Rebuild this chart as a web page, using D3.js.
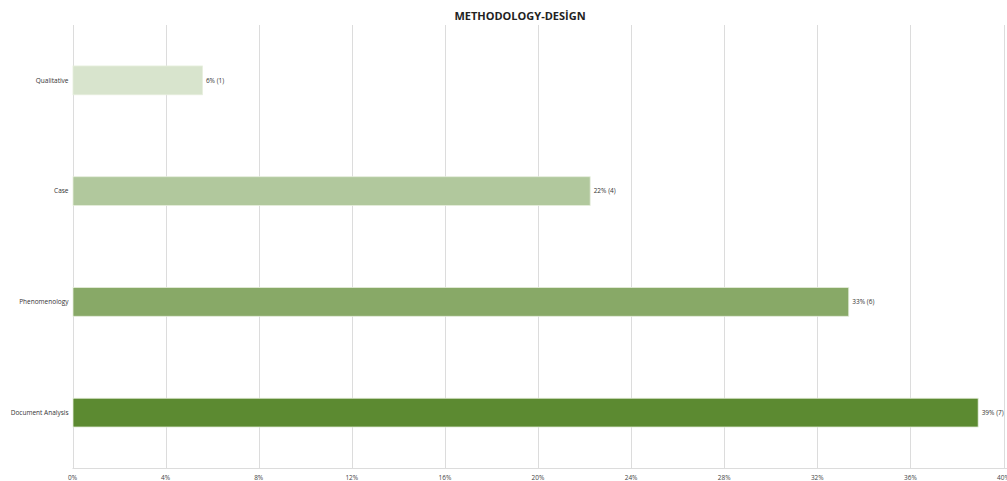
<!DOCTYPE html>
<html><head><meta charset="utf-8">
<script src="https://cdn.jsdelivr.net/npm/d3@7"></script>
<style>body{margin:0;background:#fff;}svg{display:block;font-family:"Open Sans","Noto Sans",sans-serif;}</style>
</head><body>
<script>
const categories = ["Qualitative", "Case", "Phenomenology", "Document Analysis"];
const counts = [1, 4, 6, 7];
const percents = [5.56, 22.22, 33.33, 38.89];
const labels = ["6% (1)", "22% (4)", "33% (6)", "39% (7)"];
const colors = ["#d8e4cd", "#b1c89d", "#88a967", "#5c8a31"];
const xTicks = [0, 4, 8, 12, 16, 20, 24, 28, 32, 36, 40];
const title = "METHODOLOGY-DESİGN";

const W = 1007, H = 481;
const m = {left: 72.5, right: 3.5, top: 25, bottom: 12};
const svg = d3.select("body").append("svg").attr("width", W).attr("height", H);
const x = d3.scaleLinear().domain([0, 40]).range([m.left, W - m.right]);
const y = d3.scaleBand().domain(categories).range([m.top, H - m.bottom - 1]).paddingInner(0.74).paddingOuter(0.37);

svg.append("text").attr("x", 520).attr("y", 20).attr("text-anchor", "middle")
  .attr("font-size", 11).attr("font-weight", 700).attr("fill", "#222").text(title);

svg.append("g").selectAll("line").data(xTicks).join("line")
  .attr("x1", d => Math.round(x(d)) + 0.5).attr("x2", d => Math.round(x(d)) + 0.5)
  .attr("y1", m.top).attr("y2", H - m.bottom - 1)
  .attr("stroke", "#dcdcdc").attr("stroke-width", 1);

svg.append("line").attr("x1", m.left).attr("x2", W).attr("y1", H - m.bottom - 0.5).attr("y2", H - m.bottom - 0.5)
  .attr("stroke", "#dcdcdc");

svg.append("g").selectAll("text").data(xTicks).join("text")
  .attr("x", d => x(d)).attr("y", H - 1.5).attr("text-anchor", "middle")
  .attr("font-size", 6.5).attr("fill", "#444").text(d => d + "%");

const rows = categories.map((c, i) => ({c, v: percents[i], n: counts[i], lab: labels[i], col: colors[i]}));

svg.append("g").selectAll("rect").data(rows).join("rect")
  .attr("x", x(0) + 0.5).attr("y", d => y(d.c)).attr("width", d => x(d.v) - x(0)).attr("height", y.bandwidth())
  .attr("fill", d => d.col).attr("stroke", "#e6eedd").attr("stroke-width", 0.8);

svg.append("g").selectAll("text").data(rows).join("text")
  .attr("x", d => x(d.v) + 4).attr("y", d => y(d.c) + y.bandwidth() / 2).attr("dy", "0.35em")
  .attr("font-size", 6.5).attr("fill", "#333").text(d => d.lab);

svg.append("g").selectAll("text").data(rows).join("text")
  .attr("x", m.left - 4).attr("y", d => y(d.c) + y.bandwidth() / 2).attr("dy", "0.35em")
  .attr("text-anchor", "end").attr("font-size", 6.5).attr("fill", "#333").text(d => d.c);
</script>
</body></html>
